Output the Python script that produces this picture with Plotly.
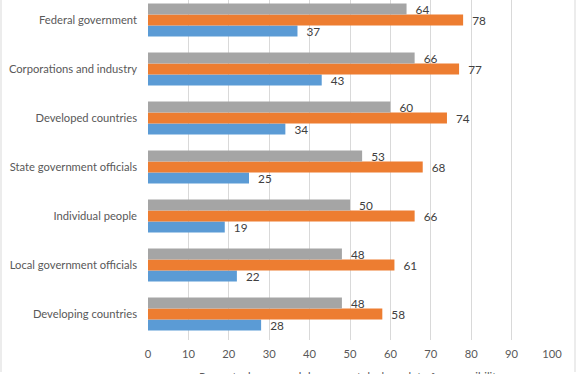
import plotly.graph_objects as go

categories = ["Federal government", "Corporations and industry", "Developed countries",
              "State government officials", "Individual people",
              "Local government officials", "Developing countries"]
gray_vals = [64, 66, 60, 53, 50, 48, 48]
orange_vals = [78, 77, 74, 68, 66, 61, 58]
blue_vals = [37, 43, 34, 25, 19, 22, 28]
x_ticks = [0, 10, 20, 30, 40, 50, 60, 70, 80, 90, 100]
x_title = "Percent who say each has a great deal or a lot of responsibility"

FONT = "Lato"
FS = 11.2
fig = go.Figure()
for name, vals, color in [("blue", blue_vals, "#5B9BD5"),
                          ("orange", orange_vals, "#ED7D31"),
                          ("gray", gray_vals, "#A5A5A5")]:
    fig.add_trace(go.Bar(
        y=categories, x=vals, orientation="h", name=name,
        marker=dict(color=color, line=dict(width=0)),
        text=["\u00a0\u00a0" + str(v) for v in vals], textposition="outside",
        constraintext="none",
        textfont=dict(family=FONT, size=FS + 0.6, color="#404040"),
        cliponaxis=False, showlegend=False, hoverinfo="skip",
    ))

W, H = 576, 374
L, R, T, B = 148, 24, 0, 34
plot_h = H - T - B

def py(p):
    return (plot_h - p) / plot_h

def px(p):
    return (p - L) / (W - L - R)

fig.update_layout(
    width=W, height=H,
    margin=dict(l=L, r=R, t=T, b=B, pad=0, autoexpand=False),
    paper_bgcolor="white", plot_bgcolor="white",
    barmode="group", bargap=0.327, bargroupgap=0,
    uniformtext=dict(mode=False),
    xaxis=dict(range=[0, 100], tickvals=x_ticks, showgrid=True, gridcolor="#D9D9D9",
               gridwidth=1, zeroline=False, showline=False, ticks="",
               ticklabelstandoff=6, automargin=False,
               tickfont=dict(family=FONT, size=FS, color="#595959"), fixedrange=True),
    yaxis=dict(type="category", categoryorder="array", categoryarray=categories[::-1],
               range=[-0.53, 6.41], showgrid=False, zeroline=False, showline=False,
               ticks="", ticklabelstandoff=10, automargin=False,
               tickfont=dict(family=FONT, size=FS, color="#595959"), fixedrange=True),
    annotations=[dict(text=x_title, xref="paper", yref="paper", x=0.5, y=py(376),
                      xanchor="center", yanchor="middle", showarrow=False,
                      font=dict(family=FONT, size=FS, color="#595959"))],
    shapes=[dict(type="line", xref="paper", yref="paper", x0=px(1), x1=px(1),
                 y0=py(372), y1=py(-5), line=dict(color="#D9D9D9", width=1)),
            dict(type="line", xref="paper", yref="paper", x0=px(575), x1=px(575),
                 y0=py(372), y1=py(-5), line=dict(color="#D9D9D9", width=1))],
)

fig.write_html("out.html", config={"displayModeBar": False, "staticPlot": True},
               post_script="document.body.style.margin='0';document.body.style.padding='0';")
